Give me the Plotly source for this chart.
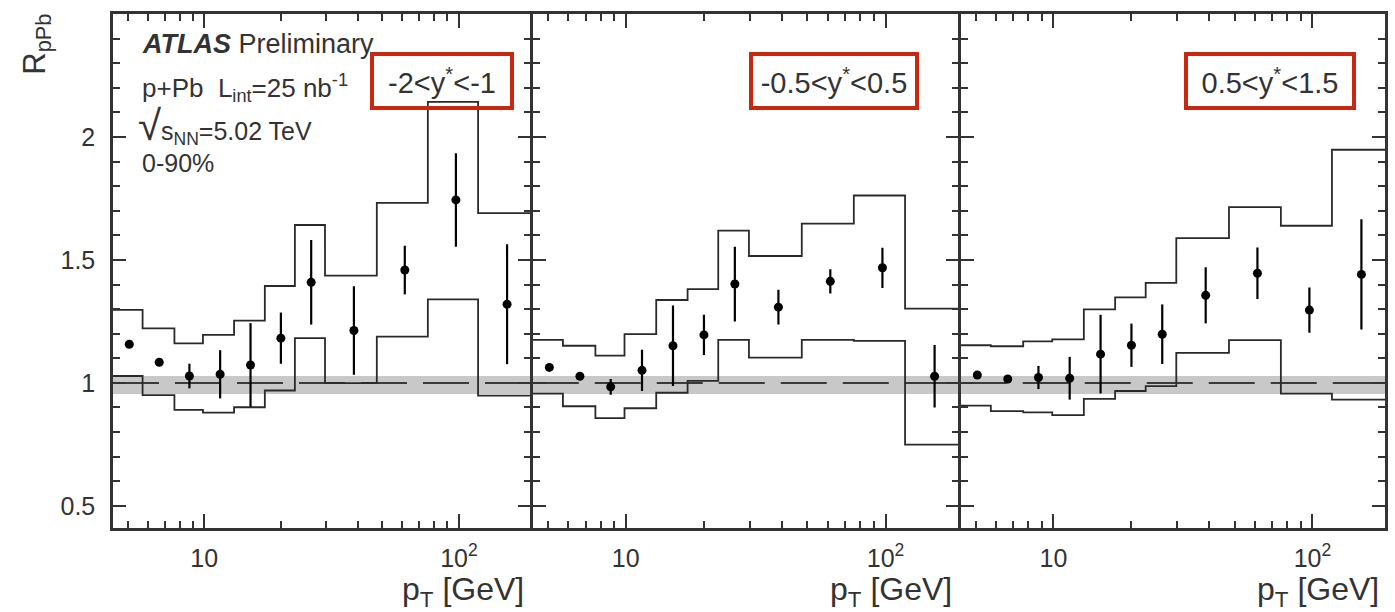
import plotly.graph_objects as go

# ---------------- data ----------------
pt_edges = [4.3, 5.73, 7.64, 9.89, 13.1, 17.3, 22.7, 29.8, 47.6, 75.5, 118.9, 200]
pt_points = [5.08, 6.66, 8.75, 11.55, 15.2, 20.0, 26.3, 38.7, 61.3, 97.3, 154.5]

rap_labels = ["-2&lt;y<sup>*</sup>&lt;-1", "-0.5&lt;y<sup>*</sup>&lt;0.5", "0.5&lt;y<sup>*</sup>&lt;1.5"]

r_bwd = [1.157, 1.084, 1.028, 1.035, 1.073, 1.182, 1.409, 1.213, 1.459, 1.744, 1.320]
e_bwd = [0.012, 0.012, 0.050, 0.098, 0.170, 0.104, 0.172, 0.180, 0.099, 0.190, 0.244]
up_bwd = [1.297, 1.222, 1.161, 1.195, 1.253, 1.394, 1.642, 1.436, 1.732, 2.143, 1.690]
lo_bwd = [1.028, 0.950, 0.890, 0.879, 0.901, 0.969, 1.182, 0.999, 1.188, 1.340, 0.948]

r_mid = [1.063, 1.027, 0.984, 1.051, 1.151, 1.195, 1.402, 1.308, 1.413, 1.468, 1.027]
e_mid = [0.012, 0.012, 0.032, 0.084, 0.164, 0.082, 0.152, 0.071, 0.049, 0.082, 0.127]
up_mid = [1.175, 1.151, 1.111, 1.198, 1.337, 1.381, 1.619, 1.516, 1.648, 1.762, 1.302]
lo_mid = [0.956, 0.905, 0.857, 0.897, 0.960, 1.008, 1.175, 1.103, 1.175, 1.171, 0.749]

r_fwd = [1.032, 1.016, 1.022, 1.019, 1.117, 1.153, 1.198, 1.356, 1.446, 1.296, 1.441]
e_fwd = [0.012, 0.012, 0.047, 0.087, 0.160, 0.088, 0.121, 0.114, 0.105, 0.092, 0.224]
up_fwd = [1.153, 1.149, 1.169, 1.177, 1.299, 1.348, 1.407, 1.589, 1.715, 1.639, 1.948]
lo_fwd = [0.908, 0.885, 0.880, 0.869, 0.935, 0.967, 0.987, 1.122, 1.174, 0.956, 0.932]

norm_band = [0.955, 1.028]
ref_level = 1.0

x_major = [10, 100]
x_major_text = ["10", "10<sup>2</sup>"]
x_minor = [5, 6, 7, 8, 9, 20, 30, 40, 50, 60, 70, 80, 90, 200]
y_major = [0.5, 1.0, 1.5, 2.0]
y_major_text = ["0.5", "1", "1.5", "2"]

panels = [
    (r_bwd, e_bwd, up_bwd, lo_bwd),
    (r_mid, e_mid, up_mid, lo_mid),
    (r_fwd, e_fwd, up_fwd, lo_fwd),
]

# ---------------- figure ----------------
FONT = "Liberation Sans, Arial, Helvetica, sans-serif"
AX = "#333333"
LW = 2.5
W, H = 1395, 612
ML, MR, MT, MB = 113, 7, 14, 84
PW = W - ML - MR
PH = H - MT - MB

def px_x(p):
    return (p - ML) / PW

def px_y(p):
    return (H - MB - p) / PH

# frame lines of neighbouring panels coincide at the dividers
div1, div2 = 532.5, 961.5
domains = [[0.0, px_x(div1 - LW / 2)],
           [px_x(div1 + LW / 2), px_x(div2 - LW / 2)],
           [px_x(div2 + LW / 2), 1.0]]

fig = go.Figure()

for i, (r, e, up, lo) in enumerate(panels):
    xa = "x" if i == 0 else f"x{i+1}"
    ya = "y" if i == 0 else f"y{i+1}"
    for band in (up, lo):
        fig.add_trace(go.Scatter(
            x=pt_edges, y=band + [band[-1]], mode="lines", line_shape="hv",
            line=dict(color="#2a2a2a", width=1.8), xaxis=xa, yaxis=ya,
            showlegend=False, hoverinfo="skip"))
    fig.add_trace(go.Scatter(
        x=pt_points, y=r, mode="markers",
        marker=dict(color="black", size=9),
        error_y=dict(type="data", array=e, visible=True, color="black",
                     thickness=2.2, width=0),
        xaxis=xa, yaxis=ya, showlegend=False))

    xref_dom = f"{xa} domain"
    fig.add_shape(type="rect", xref=xref_dom, yref=ya, x0=0, x1=1,
                  y0=norm_band[0], y1=norm_band[1], fillcolor="#c8c8c8",
                  line=dict(width=0), layer="below")
    fig.add_shape(type="line", xref=xref_dom, yref=ya, x0=0, x1=1,
                  y0=ref_level, y1=ref_level, layer="below",
                  line=dict(color="#3a3a3a", width=2, dash="46px,16px"))

    xaxis = dict(type="log", range=[0.642, 2.28], domain=domains[i], anchor=ya,
                 showline=True, linecolor=AX, linewidth=LW, mirror="ticks",
                 ticks="inside", ticklen=14, tickwidth=2, tickcolor=AX,
                 tickmode="array", tickvals=x_major, ticktext=x_major_text,
                 tickfont=dict(family=FONT, size=25, color="#333"),
                 ticklabelstandoff=6,
                 minor=dict(ticks="inside", ticklen=7, tickwidth=2, tickcolor=AX,
                            tickmode="array", tickvals=x_minor),
                 showgrid=False, zeroline=False)
    yaxis = dict(range=[0.41, 2.5], domain=[0, 1], anchor=xa,
                 showline=True, linecolor=AX, linewidth=LW, mirror="ticks",
                 ticks="inside", ticklen=13, tickwidth=2, tickcolor=AX,
                 tickmode="array", tickvals=y_major, ticktext=y_major_text,
                 tickfont=dict(family=FONT, size=25, color="#333"),
                 showticklabels=(i == 0), ticklabelstandoff=10,
                 minor=dict(ticks="inside", ticklen=7, tickwidth=2, tickcolor=AX,
                            dtick=0.1, tick0=0),
                 showgrid=False, zeroline=False)
    key = "" if i == 0 else str(i + 1)
    fig.update_layout(**{f"xaxis{key}": xaxis, f"yaxis{key}": yaxis})

    # axis title, right aligned
    fig.add_annotation(text="p<sub>T</sub> [GeV]", xref=xref_dom, yref="paper",
                       x=0.99, y=px_y(569), xanchor="right", yanchor="top",
                       showarrow=False, font=dict(family=FONT, size=32, color="#333"))

# rapidity labels in red boxes
boxes = [(371, 144), (750, 170), (1187, 172)]
for lab, (left, bw) in zip(rap_labels, boxes):
    fig.add_annotation(text=lab, xref="paper", yref="paper",
                       x=px_x(left), y=px_y(52), xanchor="left", yanchor="top",
                       width=bw - 8, height=50, align="center", valign="middle",
                       borderwidth=4, borderpad=0, bordercolor="#c8280f",
                       showarrow=False, font=dict(family=FONT, size=29, color="#333"))

# ATLAS text
tx = px_x(140)
fig.add_annotation(text="<b><i>ATLAS</i></b> Preliminary", xref="paper", yref="paper",
                   x=tx, y=px_y(44), xanchor="left", yanchor="middle", showarrow=False,
                   font=dict(family=FONT, size=27, color="#333"))
fig.add_annotation(text="p+Pb  L<sub>int</sub>=25 nb<sup>-1</sup>", xref="paper", yref="paper",
                   x=tx, y=px_y(88), xanchor="left", yanchor="middle", showarrow=False,
                   font=dict(family=FONT, size=26, color="#333"))
fig.add_annotation(text="<span style='font-size:42px'>√</span>s<sub>NN</sub>=5.02 TeV",
                   xref="paper", yref="paper",
                   x=tx - 0.003, y=px_y(125), xanchor="left", yanchor="middle", showarrow=False,
                   font=dict(family=FONT, size=25, color="#333"))
fig.add_annotation(text="0-90%", xref="paper", yref="paper",
                   x=tx, y=px_y(163), xanchor="left", yanchor="middle", showarrow=False,
                   font=dict(family=FONT, size=25, color="#333"))

# y axis title
fig.add_annotation(text="R<sub>pPb</sub>", xref="paper", yref="paper",
                   x=px_x(14), y=px_y(12), xanchor="left", yanchor="top",
                   textangle=-90, showarrow=False,
                   font=dict(family=FONT, size=31, color="#333"))

fig.update_layout(width=W, height=H, margin=dict(l=ML, r=MR, t=MT, b=MB),
                  paper_bgcolor="white", plot_bgcolor="white", showlegend=False)

fig.write_html("out.html")
